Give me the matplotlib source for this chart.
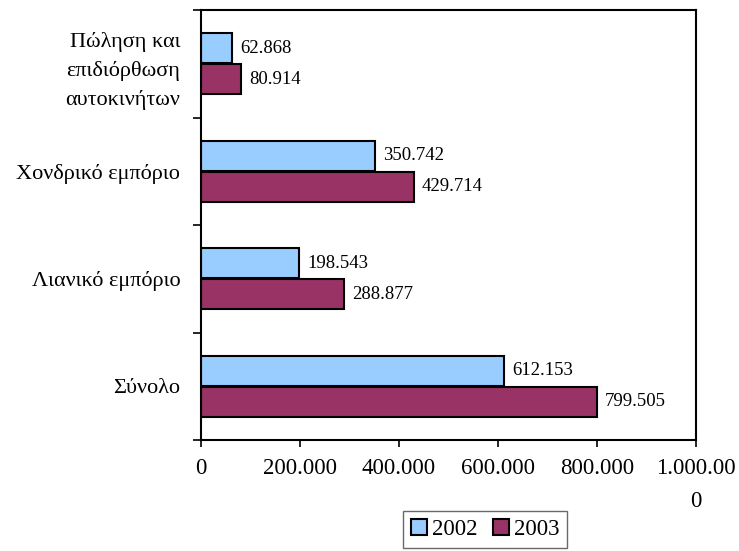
import matplotlib
matplotlib.use("Agg")
import matplotlib.pyplot as plt
import numpy as np

plt.rcParams['font.family'] = ['Liberation Serif', 'DejaVu Serif']

categories = ["Σύνολο", "Λιανικό εμπόριο", "Χονδρικό εμπόριο",
              "Πώληση και\nεπιδιόρθωση\nαυτοκινήτων"]
values_2002 = [612153, 198543, 350742, 62868]
values_2003 = [799505, 288877, 429714, 80914]
series_names = ["2002", "2003"]
x_ticks = [0, 200000, 400000, 600000, 800000, 1000000]
x_tick_labels = ["0", "200.000", "400.000", "600.000", "800.000", "1.000.00\n0"]

fig = plt.figure(figsize=(7.39, 5.51), dpi=100)
ax = fig.add_axes([201/739, (551-440)/551, (696-201)/739, (440-10)/551])

y = np.arange(len(categories))
h = 0.28
off = 0.145
b1 = ax.barh(y + off, values_2002, height=h, color="#99CCFF", edgecolor="black",
             linewidth=1.5, label=series_names[0])
b2 = ax.barh(y - off, values_2003, height=h, color="#993366", edgecolor="black",
             linewidth=1.5, label=series_names[1])

def fmt(v):
    return f"{v:,}".replace(",", ".")

for bars, vals in ((b1, values_2002), (b2, values_2003)):
    for bar, v in zip(bars, vals):
        ax.annotate(fmt(v), (v, bar.get_y() + bar.get_height() / 2),
                    xytext=(6, 0), textcoords="offset points",
                    va="center", ha="left", fontsize=13.5)

ax.set_xlim(0, 1000000)
ax.set_ylim(-0.5, len(categories) - 0.5)
ax.set_xticks(x_ticks)
ax.set_xticklabels(x_tick_labels, fontsize=16.5, ha="center",
                   multialignment="center", linespacing=1.75)
ax.tick_params(axis="x", length=5, width=1.2, pad=8)

ax.set_yticks(y)
ax.set_yticklabels(categories, fontsize=16, multialignment="right", linespacing=1.6)
ax.tick_params(axis="y", which="major", length=0, pad=15)
ax.set_yticks(np.arange(-0.5, len(categories), 1.0), minor=True)
ax.tick_params(axis="y", which="minor", length=6, width=1.2)

for s in ax.spines.values():
    s.set_linewidth(1.5)
    s.set_color("black")

leg = fig.legend(handles=[b1, b2], labels=series_names, loc="upper left",
                 bbox_to_anchor=(403/739, (551-511)/551), ncol=2, frameon=True,
                 fancybox=False, edgecolor="#444444", fontsize=16.5,
                 handlelength=0.7, handleheight=0.7, handletextpad=0.2,
                 columnspacing=0.7, borderpad=0.35, borderaxespad=0)
leg.get_frame().set_linewidth(1.0)

fig.savefig("out.png", dpi=100)
